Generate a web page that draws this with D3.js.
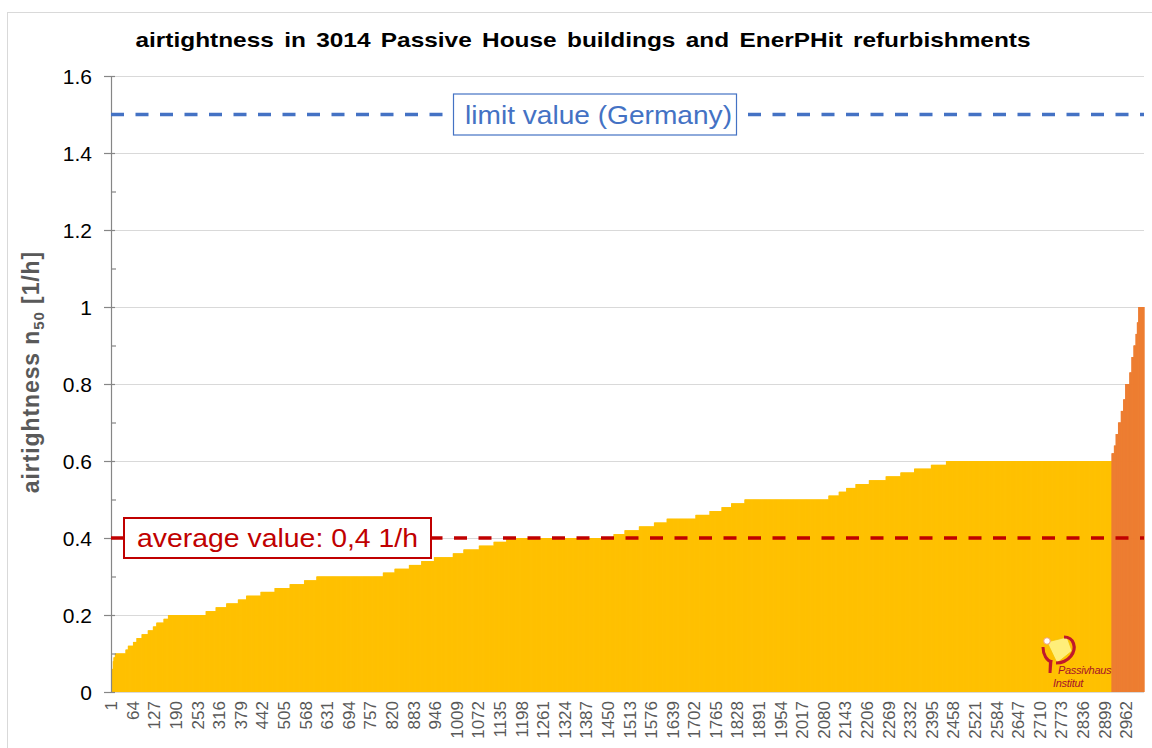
<!DOCTYPE html>
<html>
<head>
<meta charset="utf-8">
<script src="https://cdn.jsdelivr.net/npm/d3@7"></script>
<style>
  body { margin: 0; background: #fff; }
  svg { font-family: "Liberation Sans", Arial, sans-serif; }
</style>
</head>
<body>
<svg width="1152" height="748"></svg>
<script>
// n50 levels (1/h), sorted, and how many buildings sit on each level
var levels = [0.03, 0.05, 0.06, 0.08, 0.09, 0.10, 0.11, 0.12, 0.13, 0.14,
              0.15, 0.16, 0.17, 0.18, 0.19, 0.20, 0.21, 0.22, 0.23, 0.24,
              0.25, 0.26, 0.27, 0.28, 0.29, 0.30, 0.31, 0.32, 0.33, 0.34,
              0.35, 0.36, 0.37, 0.38, 0.39, 0.40, 0.41, 0.42, 0.43, 0.44,
              0.45, 0.46, 0.47, 0.48, 0.49, 0.50, 0.51, 0.52, 0.53, 0.54,
              0.55, 0.56, 0.57, 0.58, 0.59, 0.60,
              0.62, 0.64, 0.67, 0.70, 0.73, 0.76, 0.80, 0.83, 0.87, 0.90,
              0.93, 0.96, 1.00];
var counts = [1, 2, 2, 2, 4, 31, 7, 15, 10, 15,
              18, 15, 10, 21, 13, 110, 29, 31, 34, 24,
              42, 41, 44, 42, 36, 194, 34, 42, 36, 37,
              55, 31, 45, 43, 37, 313, 32, 42, 44, 37,
              84, 41, 35, 28, 39, 245, 30, 22, 27, 39,
              49, 43, 40, 49, 44, 483,
              7, 5, 7, 8, 7, 6, 12, 6, 6, 6,
              4, 4, 17];

var limitValue = 1.5;
var averageValue = 0.4;
var highThreshold = 0.6;

var yTicks = [0, 0.2, 0.4, 0.6, 0.8, 1, 1.2, 1.4, 1.6];
var yMinorTicks = [0.1, 0.3, 0.5, 0.7, 0.9, 1.1, 1.3, 1.5];
var xTickLabels = [1, 64, 127, 190, 253, 316, 379, 442, 505, 568, 631, 694, 757, 820,
                   883, 946, 1009, 1072, 1135, 1198, 1261, 1324, 1387, 1450, 1513,
                   1576, 1639, 1702, 1765, 1828, 1891, 1954, 2017, 2080, 2143, 2206,
                   2269, 2332, 2395, 2458, 2521, 2584, 2647, 2710, 2773, 2836, 2899, 2962];

// expand the runs into one record per building
var data = [];
levels.forEach(function(v, k) {
    for (var j = 0; j < counts[k]; j++) data.push({ id: data.length + 1, n50: v });
});

var margin = { top: 76, right: 8, bottom: 56, left: 111 };
var svg = d3.select("svg");
var W = +svg.attr("width"), H = +svg.attr("height");
var width = W - margin.left - margin.right,
    height = H - margin.top - margin.bottom;

var x = d3.scaleBand().domain(data.map(function(d) { return d.id; })).range([0, width]).padding(0);
var y = d3.scaleLinear().domain([0, 1.6]).range([height, 0]);

// chart frame
svg.append("rect")
    .attr("x", 7.5).attr("y", 12.5).attr("width", W).attr("height", H)
    .attr("fill", "none").attr("stroke", "#d9d9d9");

svg.append("text")
    .attr("x", 583).attr("y", 47)
    .attr("text-anchor", "middle")
    .attr("font-size", 20.5).attr("font-weight", "bold")
    .attr("word-spacing", 3)
    .attr("textLength", 895).attr("lengthAdjust", "spacingAndGlyphs")
    .text("airtightness in 3014 Passive House buildings and EnerPHit refurbishments");

var g = svg.append("g").attr("transform", "translate(" + margin.left + "," + margin.top + ")");

// gridlines
g.append("g").selectAll("line")
    .data(yTicks)
    .enter().append("line")
    .attr("x1", 0).attr("x2", width)
    .attr("y1", function(d) { return y(d) + 0.5; })
    .attr("y2", function(d) { return y(d) + 0.5; })
    .attr("stroke", "#d9d9d9").attr("stroke-width", 1.2);

// bars
g.append("g").selectAll("rect")
    .data(data)
    .enter().append("rect")
    .attr("x", function(d) { return x(d.id); })
    .attr("y", function(d) { return y(d.n50); })
    .attr("width", x.bandwidth() + 0.6)
    .attr("height", function(d) { return height - y(d.n50); })
    .attr("fill", function(d) { return d.n50 > highThreshold ? "#ED7D31" : "#FFC000"; });

// y axis
var yAxis = g.append("g");
yAxis.append("line")
    .attr("x1", 0.5).attr("x2", 0.5).attr("y1", 0).attr("y2", height + 1)
    .attr("stroke", "#868686").attr("stroke-width", 1.2);
yAxis.selectAll(".major")
    .data(yTicks)
    .enter().append("line")
    .attr("x1", -7).attr("x2", 4)
    .attr("y1", function(d) { return y(d) + 0.5; })
    .attr("y2", function(d) { return y(d) + 0.5; })
    .attr("stroke", "#868686").attr("stroke-width", 1.2);
yAxis.selectAll(".minor")
    .data(yMinorTicks)
    .enter().append("line")
    .attr("x1", 0).attr("x2", 5)
    .attr("y1", function(d) { return y(d) + 0.5; })
    .attr("y2", function(d) { return y(d) + 0.5; })
    .attr("stroke", "#868686").attr("stroke-width", 1.2);
yAxis.selectAll("text")
    .data(yTicks)
    .enter().append("text")
    .attr("x", -19)
    .attr("y", function(d) { return y(d); })
    .attr("dy", "0.36em")
    .attr("text-anchor", "end")
    .attr("font-size", 21)
    .attr("fill", "#000")
    .text(function(d) { return d3.format("")(d); });

// x labels
g.append("g").selectAll("text")
    .data(xTickLabels)
    .enter().append("text")
    .attr("transform", function(d) {
        return "translate(" + (x(d) + x.bandwidth() / 2) + "," + (height + 9) + ") rotate(-90)";
    })
    .attr("dy", "0.36em")
    .attr("text-anchor", "end")
    .attr("font-size", 17)
    .attr("fill", "#595959")
    .text(function(d) { return d; });

// y axis title
var yTitle = svg.append("text")
    .attr("transform", "translate(39," + (margin.top + height / 2 - 12) + ") rotate(-90)")
    .attr("text-anchor", "middle")
    .attr("font-size", 23).attr("font-weight", "bold")
    .attr("fill", "#595959")
    .attr("letter-spacing", 0.9);
yTitle.append("tspan").text("airtightness n");
yTitle.append("tspan").attr("dy", 5).attr("font-size", 15).text("50");
yTitle.append("tspan").attr("dy", -5).text(" [1/h]");

// reference lines
g.append("line")
    .attr("x1", 0).attr("x2", width)
    .attr("y1", y(limitValue)).attr("y2", y(limitValue))
    .attr("stroke", "#4472C4").attr("stroke-width", 3.5)
    .attr("stroke-dasharray", "13,11.5");
g.append("line")
    .attr("x1", 0).attr("x2", width)
    .attr("y1", y(averageValue)).attr("y2", y(averageValue))
    .attr("stroke", "#C00000").attr("stroke-width", 3.5)
    .attr("stroke-dasharray", "13,11.5");

// labels on the reference lines
var limitBox = g.append("g").attr("transform", "translate(342," + y(limitValue) + ")");
limitBox.append("rect")
    .attr("x", 0.5).attr("y", -20.5).attr("width", 283).attr("height", 41)
    .attr("fill", "#fff").attr("stroke", "#4472C4").attr("stroke-width", 1.2);
limitBox.append("text")
    .attr("x", 12).attr("y", 0).attr("dy", "0.35em")
    .attr("font-size", 26).attr("fill", "#4472C4")
    .attr("textLength", 267).attr("lengthAdjust", "spacingAndGlyphs")
    .text("limit value (Germany)");

var avgBox = g.append("g").attr("transform", "translate(12," + y(averageValue) + ")");
avgBox.append("rect")
    .attr("x", 1).attr("y", -20).attr("width", 307).attr("height", 40)
    .attr("fill", "#fff").attr("stroke", "#C00000").attr("stroke-width", 2);
avgBox.append("text")
    .attr("x", 14).attr("y", 0).attr("dy", "0.35em")
    .attr("font-size", 26).attr("fill", "#C00000")
    .attr("textLength", 281).attr("lengthAdjust", "spacingAndGlyphs")
    .text("average value: 0,4 1/h");

// Passivhaus Institut logo
var logo = svg.append("g").attr("transform", "translate(1040,634)");
logo.append("path")
    .attr("d", "M7,8 L27,3 L32,17 L17,29 Z")
    .attr("fill", "#FFEE7A").attr("stroke", "#F2C200").attr("stroke-width", 0.8);
logo.append("path")
    .attr("d", "M24,3 C34,3 37,14 31,22 C27,27 21,29 16,29")
    .attr("fill", "none").attr("stroke", "#C0182B").attr("stroke-width", 3.2);
logo.append("path")
    .attr("d", "M3,13 C3,21 7,27 12,28")
    .attr("fill", "none").attr("stroke", "#C0182B").attr("stroke-width", 3);
logo.append("path")
    .attr("d", "M9,26 L12.5,26 L11.5,39 L8.5,39 Z")
    .attr("fill", "#C0182B");
logo.append("circle")
    .attr("cx", 7).attr("cy", 7).attr("r", 3.3)
    .attr("fill", "#fff").attr("stroke", "#F0A070").attr("stroke-width", 1);
logo.append("text")
    .attr("x", 18).attr("y", 40)
    .attr("font-size", 11).attr("font-style", "italic")
    .attr("fill", "#A5122A").attr("letter-spacing", -0.3)
    .text("Passivhaus");
logo.append("text")
    .attr("x", 13).attr("y", 53)
    .attr("font-size", 11).attr("font-style", "italic")
    .attr("fill", "#A5122A").attr("letter-spacing", -0.3)
    .text("Institut");
</script>
</body>
</html>
